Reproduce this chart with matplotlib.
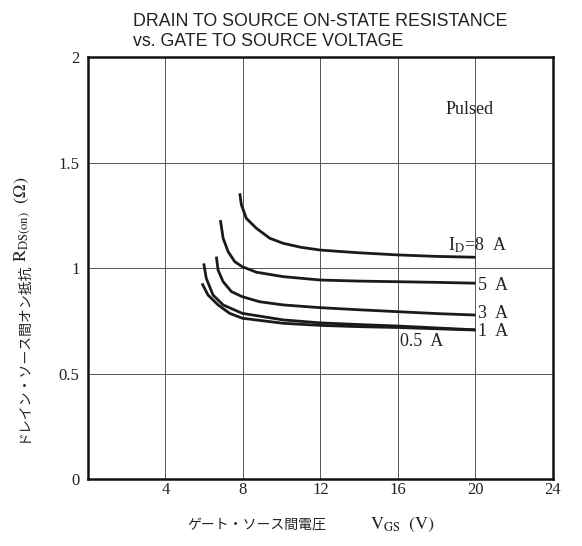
#!/usr/bin/env python3
# RDS(on) vs VGS curves, redrawn from the datasheet figure.
import matplotlib
matplotlib.use("Agg")
import matplotlib.pyplot as plt

plt.rcParams["mathtext.fontset"] = "stix"

# curves: VGS (V) -> RDS(on) (ohm)
vgs_8a = [7.84, 7.92, 8.18, 8.70, 9.39, 10.08, 11.0, 12.0, 14.0, 16.0, 18.0, 20.0]
rds_8a = [1.354, 1.30, 1.235, 1.188, 1.141, 1.117, 1.098, 1.085, 1.072, 1.062, 1.055, 1.051]

vgs_5a = [6.84, 6.98, 7.24, 7.58, 7.97, 8.70, 10.08, 12.0, 14.0, 16.0, 18.0, 20.0]
rds_5a = [1.227, 1.141, 1.077, 1.030, 1.006, 0.980, 0.959, 0.943, 0.938, 0.935, 0.932, 0.928]

vgs_3a = [6.63, 6.72, 6.98, 7.41, 7.97, 8.87, 10.08, 12.0, 14.0, 16.0, 18.0, 20.0]
rds_3a = [1.054, 0.990, 0.935, 0.888, 0.864, 0.840, 0.825, 0.812, 0.802, 0.793, 0.784, 0.777]

vgs_1a = [5.98, 6.11, 6.46, 6.98, 7.97, 10.08, 12.0, 14.0, 16.0, 18.0, 20.0]
rds_1a = [1.022, 0.951, 0.872, 0.825, 0.785, 0.754, 0.740, 0.732, 0.725, 0.716, 0.707]

vgs_05a = [5.89, 6.20, 6.72, 7.32, 7.97, 10.08, 12.0, 14.0, 16.0, 18.0, 20.0]
rds_05a = [0.927, 0.872, 0.825, 0.785, 0.762, 0.738, 0.728, 0.722, 0.718, 0.712, 0.706]

curves = [(vgs_8a, rds_8a), (vgs_5a, rds_5a), (vgs_3a, rds_3a),
          (vgs_1a, rds_1a), (vgs_05a, rds_05a)]

# curve labels: text, x, y
labels = [(r"I$_\mathrm{D}$=8  A", 18.6, 1.109), ("5  A", 20.15, 0.919),
          ("3  A", 20.15, 0.785), ("1  A", 20.15, 0.698), ("0.5  A", 16.1, 0.651)]

xticks = [0, 4, 8, 12, 16, 20, 24]
xticklabels = ["", "4", "8", "12", "16", "20", "24"]
yticks = [0, 0.5, 1, 1.5, 2]
yticklabels = ["0", "0.5", "1", "1.5", "2"]

serif = ["Liberation Serif", "DejaVu Serif"]
jp = ["Noto Sans CJK JP"]
ink = "#222"

fig = plt.figure(figsize=(5.82, 5.46), dpi=100)
ax = fig.add_axes([0.151, 0.1227, 0.799, 0.7729])

for x, y in curves:
    ax.plot(x, y, color="#1a1a1a", lw=2.0, solid_capstyle="butt")

for txt, x, y in labels:
    ax.text(x, y, txt, fontsize=13, family=serif, va="center", ha="left", color=ink)

ax.text(19.7, 1.75, "Pulsed", fontsize=13, family=serif, ha="center", va="center", color=ink)

ax.set_xlim(0, 24)
ax.set_ylim(0, 2)
ax.set_xticks(xticks)
ax.set_xticklabels(xticklabels)
ax.set_yticks(yticks)
ax.set_yticklabels(yticklabels)
ax.grid(True, color="#555", lw=0.7)
ax.tick_params(length=0, labelsize=12)
ax.tick_params(axis="x", pad=2)
ax.tick_params(axis="y", pad=6)
for lab in ax.get_xticklabels() + ax.get_yticklabels():
    lab.set_family(serif)
    lab.set_color(ink)
for s in ax.spines.values():
    s.set_linewidth(1.8)
    s.set_color("#111")

W, H = 582, 546
# x axis title: japanese part + symbol part
fig.text(187 / W, (H - 525) / H, "ゲート・ソース間電圧", family=jp, fontsize=10,
         ha="left", va="center", color=ink)
fig.text(370 / W, (H - 525) / H, r"$\mathrm{V_{GS}\ \ (V)}$", fontsize=13,
         family=serif, ha="left", va="center", color=ink)
# y axis title
fig.text(23 / W, (H - 442) / H, "ドレイン・ソース間オン抵抗", family=jp, fontsize=10,
         rotation=90, ha="center", va="bottom", color=ink)
fig.text(23 / W, (H - 262) / H, r"$\mathrm{R_{DS(on)}\ \ (\Omega)}$", fontsize=13,
         family=serif, rotation=90, ha="center", va="bottom", color=ink)

title_font = ["Liberation Sans", "DejaVu Sans"]
fig.text(133 / W, (H - 21.5) / H, "DRAIN TO SOURCE ON-STATE RESISTANCE",
         family=title_font, fontsize=12.8, ha="left", va="center", color=ink)
fig.text(133 / W, (H - 41.5) / H, "vs. GATE TO SOURCE VOLTAGE",
         family=title_font, fontsize=12.8, ha="left", va="center", color=ink)

fig.savefig("out.png", dpi=100)
